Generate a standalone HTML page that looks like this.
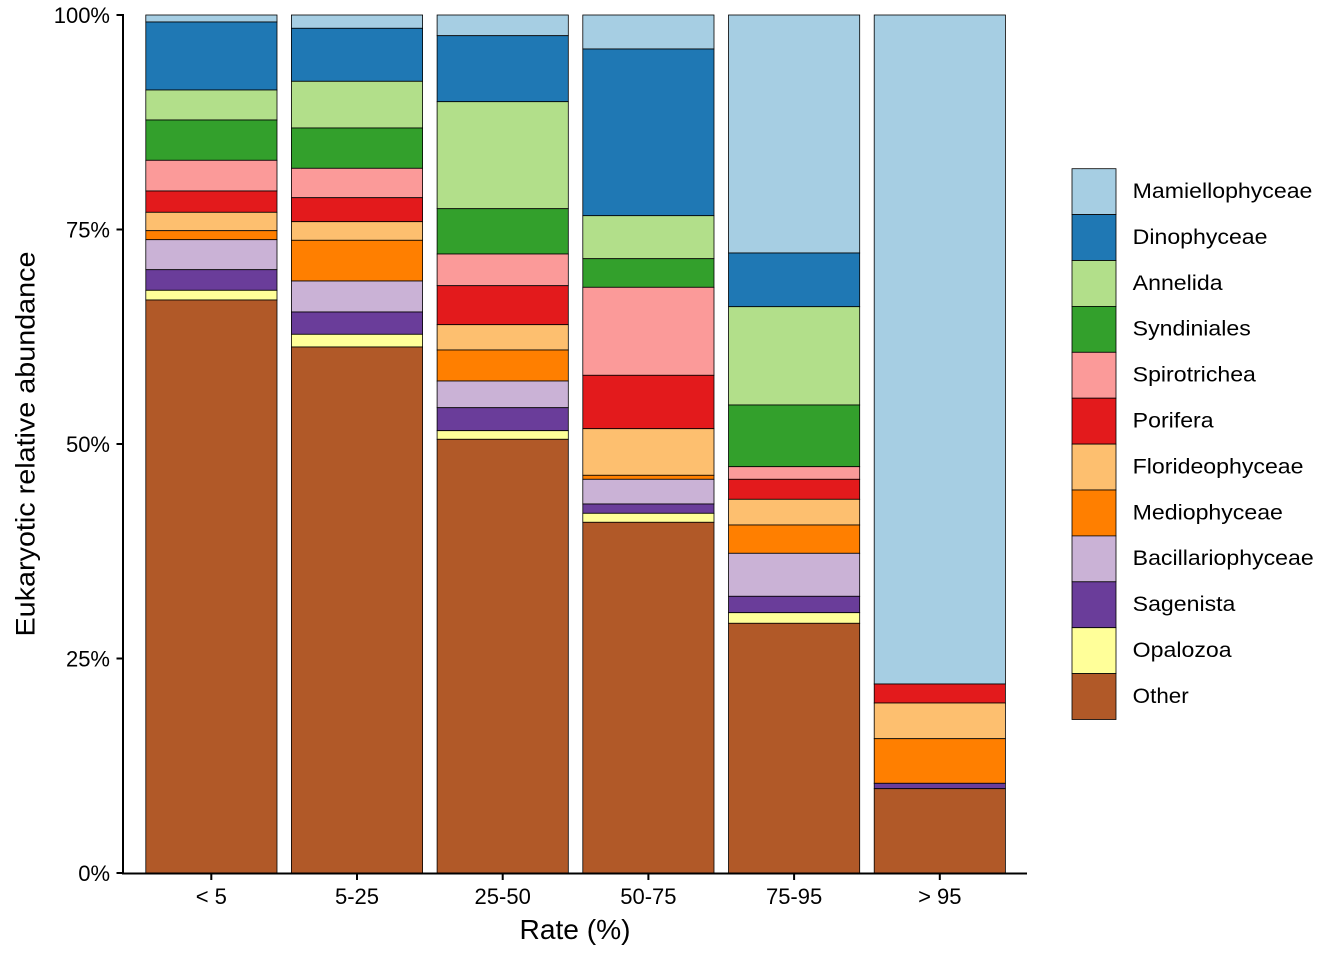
<!DOCTYPE html>
<html>
<head>
<meta charset="utf-8">
<style>
html,body{margin:0;padding:0;background:#fff;}
svg{display:block;}
text{font-family:"Liberation Sans",Arial,sans-serif;fill:#000;}
</style>
</head>
<body>
<svg width="1344" height="960" viewBox="0 0 1344 960" xmlns="http://www.w3.org/2000/svg">
<rect width="1344" height="960" fill="#fff"/>
<g stroke="#000" stroke-width="0.8">
<!-- Bar 1: < 5 -->
<rect x="145.8" y="15" width="131.2" height="7" fill="#A6CEE3"/>
<rect x="145.8" y="22" width="131.2" height="68" fill="#1F78B4"/>
<rect x="145.8" y="90" width="131.2" height="30" fill="#B2DF8A"/>
<rect x="145.8" y="120" width="131.2" height="40.3" fill="#33A02C"/>
<rect x="145.8" y="160.3" width="131.2" height="30.7" fill="#FB9A99"/>
<rect x="145.8" y="191" width="131.2" height="21.3" fill="#E31A1C"/>
<rect x="145.8" y="212.3" width="131.2" height="18.4" fill="#FDBF6F"/>
<rect x="145.8" y="230.7" width="131.2" height="9" fill="#FF7F00"/>
<rect x="145.8" y="239.7" width="131.2" height="30" fill="#CAB2D6"/>
<rect x="145.8" y="269.7" width="131.2" height="20.6" fill="#6A3D9A"/>
<rect x="145.8" y="290.3" width="131.2" height="9.7" fill="#FFFF99"/>
<rect x="145.8" y="300" width="131.2" height="573" fill="#B15928"/>
<!-- Bar 2: 5-25 -->
<rect x="291.4" y="15" width="131.2" height="13.3" fill="#A6CEE3"/>
<rect x="291.4" y="28.3" width="131.2" height="53" fill="#1F78B4"/>
<rect x="291.4" y="81.3" width="131.2" height="46.7" fill="#B2DF8A"/>
<rect x="291.4" y="128" width="131.2" height="40.3" fill="#33A02C"/>
<rect x="291.4" y="168.3" width="131.2" height="29.4" fill="#FB9A99"/>
<rect x="291.4" y="197.7" width="131.2" height="24" fill="#E31A1C"/>
<rect x="291.4" y="221.7" width="131.2" height="18.6" fill="#FDBF6F"/>
<rect x="291.4" y="240.3" width="131.2" height="40.7" fill="#FF7F00"/>
<rect x="291.4" y="281" width="131.2" height="31" fill="#CAB2D6"/>
<rect x="291.4" y="312" width="131.2" height="22.3" fill="#6A3D9A"/>
<rect x="291.4" y="334.3" width="131.2" height="12.7" fill="#FFFF99"/>
<rect x="291.4" y="347" width="131.2" height="526" fill="#B15928"/>
<!-- Bar 3: 25-50 -->
<rect x="437.1" y="15" width="131.2" height="20.7" fill="#A6CEE3"/>
<rect x="437.1" y="35.7" width="131.2" height="66" fill="#1F78B4"/>
<rect x="437.1" y="101.7" width="131.2" height="107" fill="#B2DF8A"/>
<rect x="437.1" y="208.7" width="131.2" height="45.3" fill="#33A02C"/>
<rect x="437.1" y="254" width="131.2" height="31.7" fill="#FB9A99"/>
<rect x="437.1" y="285.7" width="131.2" height="39" fill="#E31A1C"/>
<rect x="437.1" y="324.7" width="131.2" height="25.3" fill="#FDBF6F"/>
<rect x="437.1" y="350" width="131.2" height="31" fill="#FF7F00"/>
<rect x="437.1" y="381" width="131.2" height="26.7" fill="#CAB2D6"/>
<rect x="437.1" y="407.7" width="131.2" height="23" fill="#6A3D9A"/>
<rect x="437.1" y="430.7" width="131.2" height="8.6" fill="#FFFF99"/>
<rect x="437.1" y="439.3" width="131.2" height="433.7" fill="#B15928"/>
<!-- Bar 4: 50-75 -->
<rect x="582.8" y="15" width="131.2" height="34" fill="#A6CEE3"/>
<rect x="582.8" y="49" width="131.2" height="166.7" fill="#1F78B4"/>
<rect x="582.8" y="215.7" width="131.2" height="43" fill="#B2DF8A"/>
<rect x="582.8" y="258.7" width="131.2" height="28.6" fill="#33A02C"/>
<rect x="582.8" y="287.3" width="131.2" height="88" fill="#FB9A99"/>
<rect x="582.8" y="375.3" width="131.2" height="53.4" fill="#E31A1C"/>
<rect x="582.8" y="428.7" width="131.2" height="46.6" fill="#FDBF6F"/>
<rect x="582.8" y="475.3" width="131.2" height="4" fill="#FF7F00"/>
<rect x="582.8" y="479.3" width="131.2" height="24.7" fill="#CAB2D6"/>
<rect x="582.8" y="504" width="131.2" height="9.3" fill="#6A3D9A"/>
<rect x="582.8" y="513.3" width="131.2" height="9" fill="#FFFF99"/>
<rect x="582.8" y="522.3" width="131.2" height="350.7" fill="#B15928"/>
<!-- Bar 5: 75-95 -->
<rect x="728.5" y="15" width="131.2" height="238" fill="#A6CEE3"/>
<rect x="728.5" y="253" width="131.2" height="53.7" fill="#1F78B4"/>
<rect x="728.5" y="306.7" width="131.2" height="98.3" fill="#B2DF8A"/>
<rect x="728.5" y="405" width="131.2" height="61.7" fill="#33A02C"/>
<rect x="728.5" y="466.7" width="131.2" height="12.6" fill="#FB9A99"/>
<rect x="728.5" y="479.3" width="131.2" height="20" fill="#E31A1C"/>
<rect x="728.5" y="499.3" width="131.2" height="25.7" fill="#FDBF6F"/>
<rect x="728.5" y="525" width="131.2" height="28.3" fill="#FF7F00"/>
<rect x="728.5" y="553.3" width="131.2" height="43" fill="#CAB2D6"/>
<rect x="728.5" y="596.3" width="131.2" height="16.4" fill="#6A3D9A"/>
<rect x="728.5" y="612.7" width="131.2" height="10.6" fill="#FFFF99"/>
<rect x="728.5" y="623.3" width="131.2" height="249.7" fill="#B15928"/>
<!-- Bar 6: > 95 -->
<rect x="874.2" y="15" width="131.2" height="669" fill="#A6CEE3"/>
<rect x="874.2" y="684" width="131.2" height="19" fill="#E31A1C"/>
<rect x="874.2" y="703" width="131.2" height="35.7" fill="#FDBF6F"/>
<rect x="874.2" y="738.7" width="131.2" height="44.6" fill="#FF7F00"/>
<rect x="874.2" y="783.3" width="131.2" height="5.4" fill="#6A3D9A"/>
<rect x="874.2" y="788.7" width="131.2" height="84.3" fill="#B15928"/>
</g>

<!-- Axes -->
<g stroke="#000" stroke-width="2" fill="none">
<line x1="123" y1="14" x2="123" y2="874"/>
<line x1="122" y1="873.5" x2="1027" y2="873.5"/>
<line x1="116.5" y1="15" x2="123" y2="15"/>
<line x1="116.5" y1="229.5" x2="123" y2="229.5"/>
<line x1="116.5" y1="444" x2="123" y2="444"/>
<line x1="116.5" y1="658.5" x2="123" y2="658.5"/>
<line x1="116.5" y1="873" x2="123" y2="873"/>
<line x1="211.3" y1="873" x2="211.3" y2="880"/>
<line x1="357" y1="873" x2="357" y2="880"/>
<line x1="502.7" y1="873" x2="502.7" y2="880"/>
<line x1="648.4" y1="873" x2="648.4" y2="880"/>
<line x1="794.1" y1="873" x2="794.1" y2="880"/>
<line x1="939.8" y1="873" x2="939.8" y2="880"/>
</g>

<!-- Y tick labels -->
<g font-size="22" text-anchor="end">
<text x="110" y="22.8">100%</text>
<text x="110" y="237.3">75%</text>
<text x="110" y="451.8">50%</text>
<text x="110" y="666.3">25%</text>
<text x="110" y="880.8">0%</text>
</g>

<!-- X tick labels -->
<g font-size="22" text-anchor="middle">
<text x="211.3" y="904">&lt; 5</text>
<text x="357" y="904">5-25</text>
<text x="502.7" y="904">25-50</text>
<text x="648.4" y="904">50-75</text>
<text x="794.1" y="904">75-95</text>
<text x="939.8" y="904">&gt; 95</text>
</g>

<!-- Axis titles -->
<text x="519.5" y="939" font-size="28" textLength="111" lengthAdjust="spacingAndGlyphs">Rate (%)</text>
<text transform="translate(34.3,444) rotate(-90)" x="-192.5" y="0" font-size="27" textLength="385" lengthAdjust="spacingAndGlyphs">Eukaryotic relative abundance</text>

<!-- Legend -->
<g stroke="#000" stroke-width="0.8">
<rect x="1072" y="168.7" width="44" height="45.9" fill="#A6CEE3"/>
<rect x="1072" y="214.6" width="44" height="45.9" fill="#1F78B4"/>
<rect x="1072" y="260.5" width="44" height="45.9" fill="#B2DF8A"/>
<rect x="1072" y="306.4" width="44" height="45.9" fill="#33A02C"/>
<rect x="1072" y="352.3" width="44" height="45.9" fill="#FB9A99"/>
<rect x="1072" y="398.2" width="44" height="45.9" fill="#E31A1C"/>
<rect x="1072" y="444.1" width="44" height="45.9" fill="#FDBF6F"/>
<rect x="1072" y="490" width="44" height="45.9" fill="#FF7F00"/>
<rect x="1072" y="535.9" width="44" height="45.9" fill="#CAB2D6"/>
<rect x="1072" y="581.8" width="44" height="45.9" fill="#6A3D9A"/>
<rect x="1072" y="627.7" width="44" height="45.9" fill="#FFFF99"/>
<rect x="1072" y="673.6" width="44" height="45.9" fill="#B15928"/>
</g>
<g font-size="21">
<text x="1132.7" y="198" textLength="179.7" lengthAdjust="spacingAndGlyphs">Mamiellophyceae</text>
<text x="1132.7" y="243.9" textLength="134.8" lengthAdjust="spacingAndGlyphs">Dinophyceae</text>
<text x="1132.7" y="289.8" textLength="89.9" lengthAdjust="spacingAndGlyphs">Annelida</text>
<text x="1132.7" y="335.7" textLength="118.1" lengthAdjust="spacingAndGlyphs">Syndiniales</text>
<text x="1132.7" y="381.6" textLength="123.2" lengthAdjust="spacingAndGlyphs">Spirotrichea</text>
<text x="1132.7" y="427.5" textLength="80.9" lengthAdjust="spacingAndGlyphs">Porifera</text>
<text x="1132.7" y="473.4" textLength="170.8" lengthAdjust="spacingAndGlyphs">Florideophyceae</text>
<text x="1132.7" y="519.3" textLength="150.2" lengthAdjust="spacingAndGlyphs">Mediophyceae</text>
<text x="1132.7" y="565.2" textLength="181" lengthAdjust="spacingAndGlyphs">Bacillariophyceae</text>
<text x="1132.7" y="611.1" textLength="102.7" lengthAdjust="spacingAndGlyphs">Sagenista</text>
<text x="1132.7" y="657" textLength="98.9" lengthAdjust="spacingAndGlyphs">Opalozoa</text>
<text x="1132.7" y="702.9" textLength="56" lengthAdjust="spacingAndGlyphs">Other</text>
</g>
</svg>
</body>
</html>
